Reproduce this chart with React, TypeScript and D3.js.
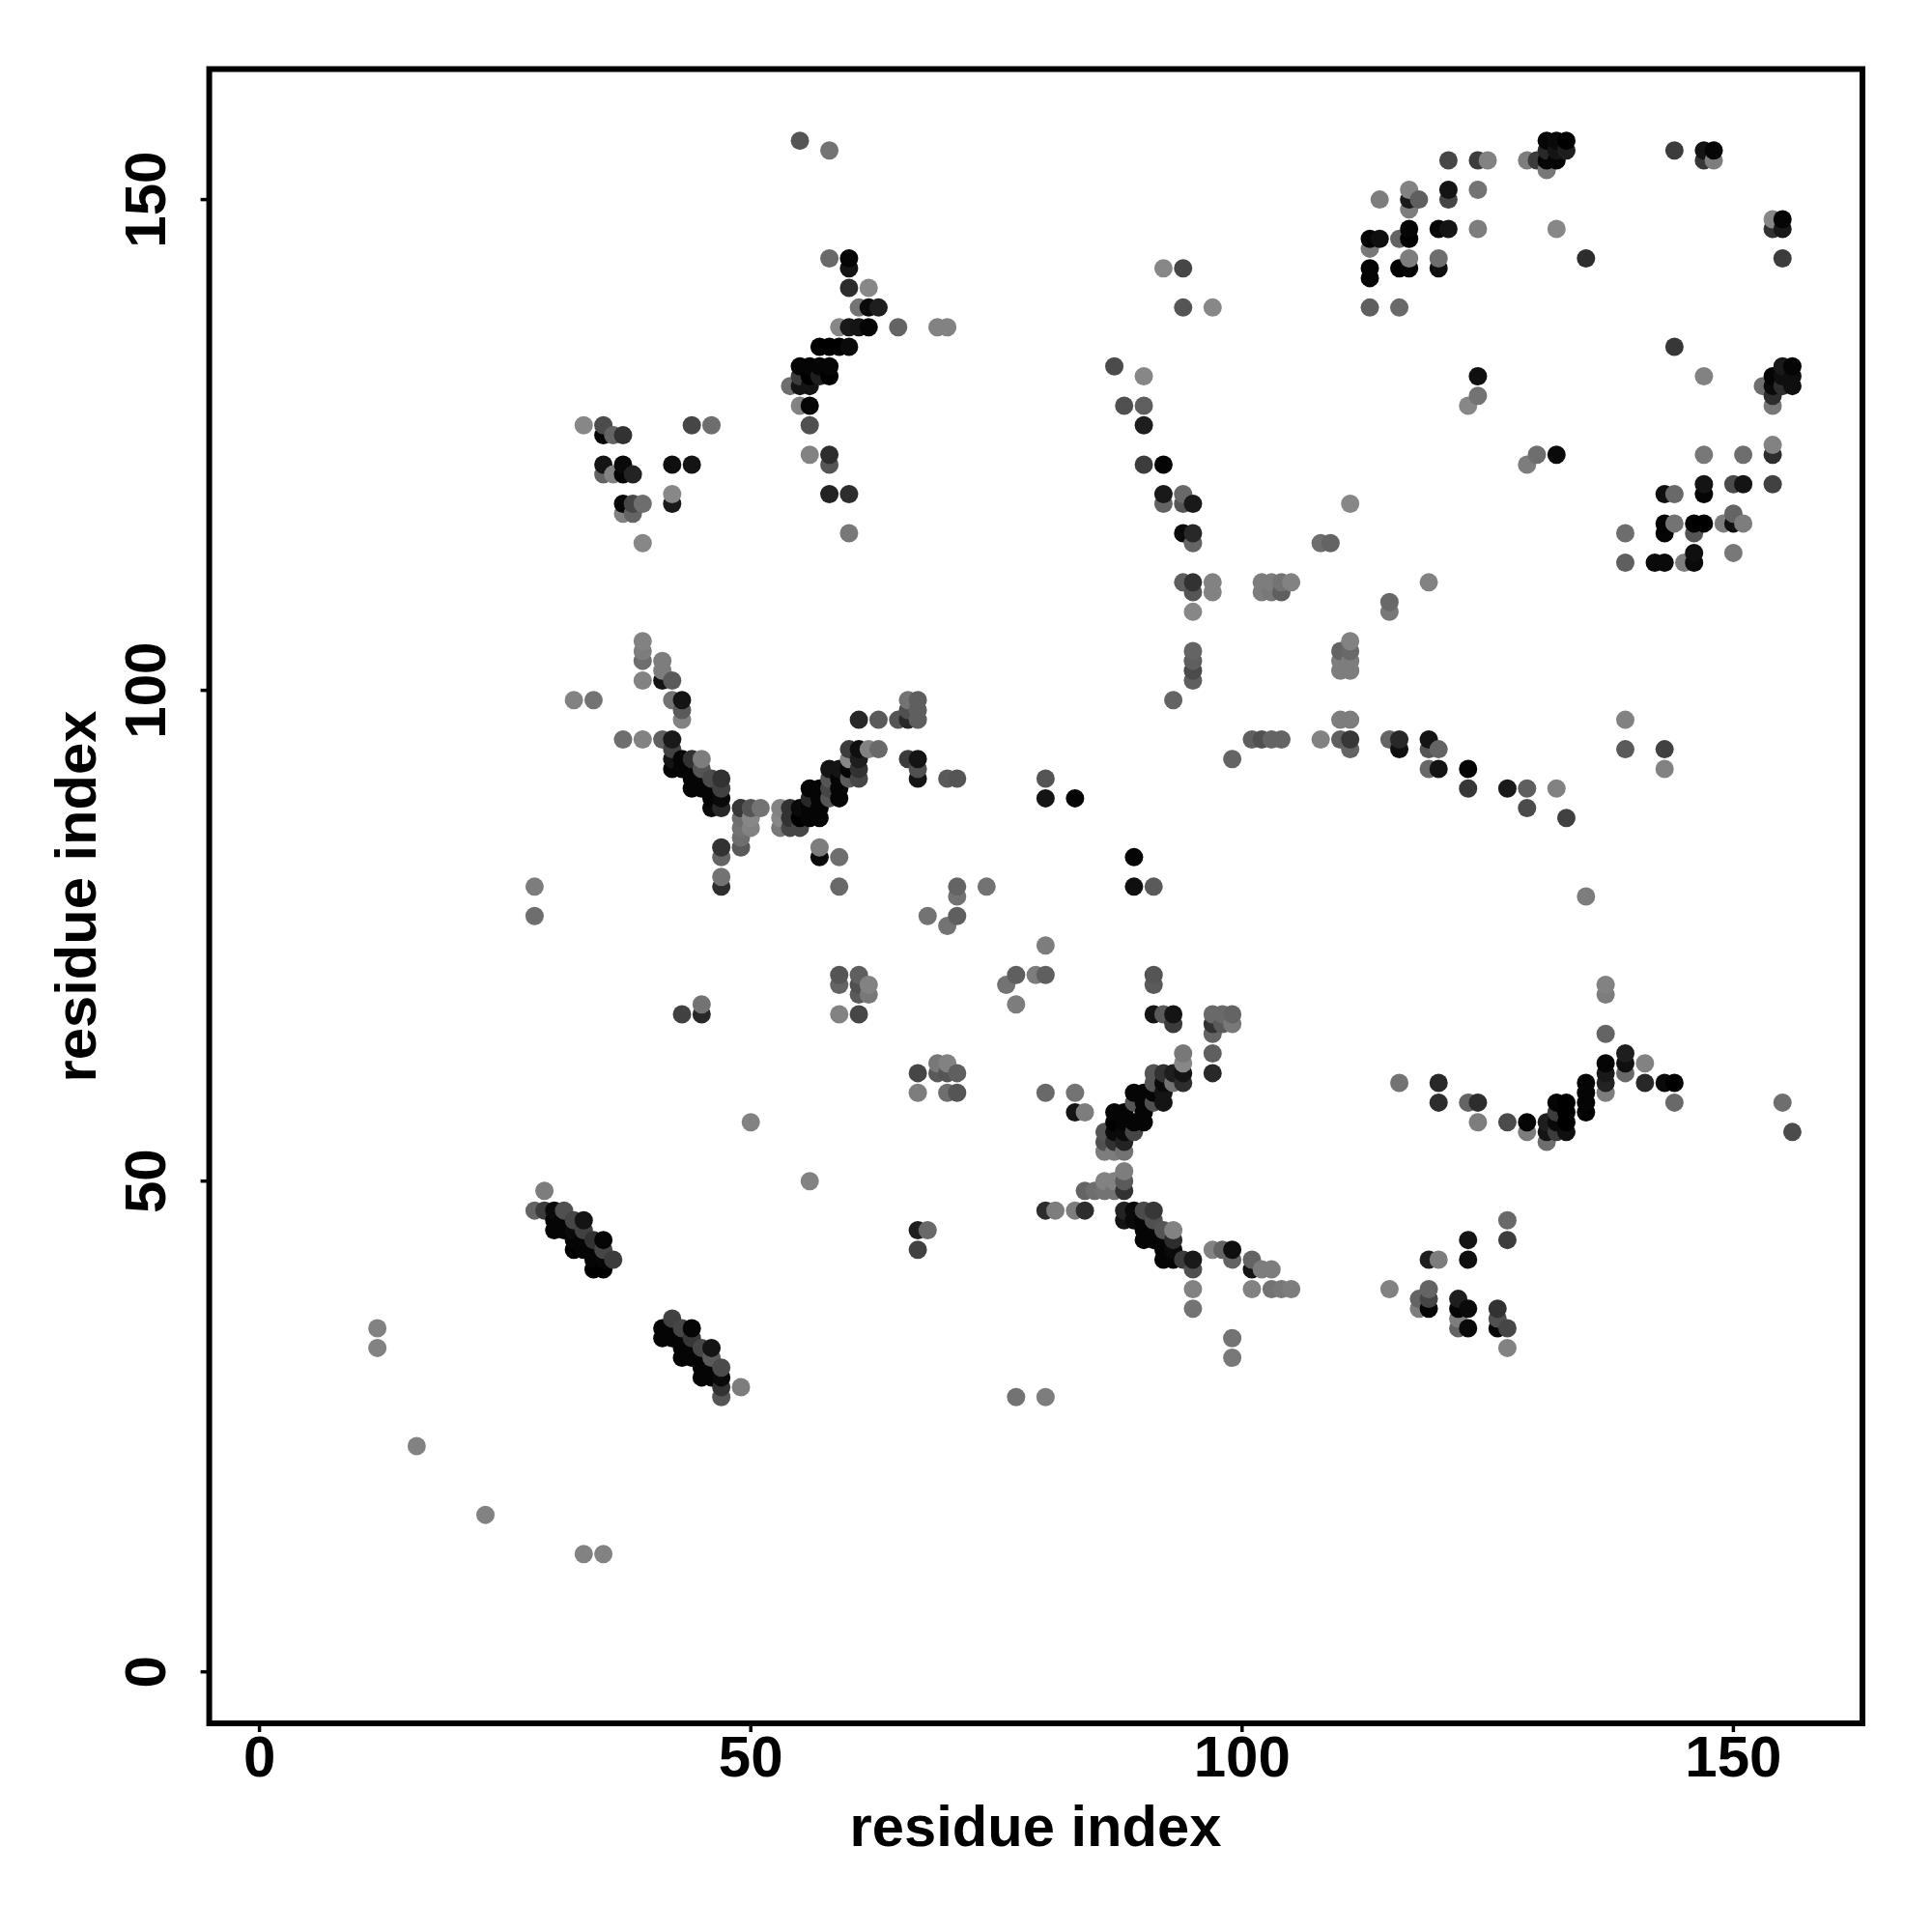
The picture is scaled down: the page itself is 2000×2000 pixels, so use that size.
import React from "react";
import * as d3 from "d3";

type C = [number, number, number];

// Contacts: [residue x, residue y, weakness] — 0 is strongest (black), 140 weakest (grey)
const topMiddle: C[] = [
  [55,156,85],[58,155,115],[58,144,105],[60,144,5],[60,143,20],[60,141,45],[62,141,135],
  [61,139,115],[62,139,10],[63,139,30],[59,137,135],[60,137,25],[61,137,20],[62,137,5],[65,137,100],[69,137,130],[70,137,130],
  [57,135,0],[58,135,0],[59,135,0],[60,135,10],[55,133,5],[56,133,5],[57,133,5],[58,133,5],
  [55,132,60],[56,132,0],[57,132,30],[58,132,0],[54,131,110],[55,131,20],[56,131,20],
  [55,129,130],[56,129,5],[56,127,80],[56,124,130],[58,124,45],[58,123,85],[58,120,35],[60,120,45],[60,116,120],
];
const topLeft: C[] = [
  [33,127,135],[35,127,75],[44,127,70],[46,127,110],[35,126,5],[36,126,100],[37,126,50],
  [35,123,20],[37,123,10],[42,123,15],[44,123,20],[35,122,100],[36,122,130],[37,122,5],[38,122,35],
  [42,120,135],[37,119,5],[38,119,70],[39,119,110],[42,119,25],[37,118,130],[38,118,100],[39,115,135],
];
const topCentre: C[] = [
  [92,143,135],[94,143,70],[94,139,85],[97,139,135],[87,133,75],[90,132,135],[88,129,80],[90,129,95],
  [90,127,30],[90,123,60],[92,123,5],[92,120,25],[94,120,105],[92,119,100],[94,119,85],[95,119,25],
  [94,116,10],[95,116,40],[95,115,100],[94,111,95],[95,111,50],[97,111,130],[95,110,85],[97,110,130],[95,108,135],
  [95,104,100],[95,103,95],[95,102,75],[95,101,95],[93,99,100],
  [102,111,125],[103,111,125],[104,111,115],[105,111,130],[102,110,125],[103,110,120],[104,110,95],
  [108,115,110],[109,115,100],[111,119,135],[115,109,105],[115,108,120],[119,111,130],
  [111,105,130],[110,104,100],[111,104,105],[110,103,125],[111,103,125],[110,102,125],[111,102,125],
  [110,97,125],[111,97,125],
];
const topRight: C[] = [
  [121,154,70],[124,154,60],[125,154,130],[121,151,20],[124,151,115],[121,150,70],[114,150,125],
  [117,151,130],[117,150,25],[118,150,95],[117,149,125],[117,147,5],[120,147,5],[121,147,20],[124,147,125],
  [113,146,5],[114,146,15],[116,146,100],[117,146,0],[113,145,120],[117,144,125],[120,144,110],
  [113,143,5],[116,143,0],[117,143,5],[120,143,15],[113,142,5],[113,139,95],[116,139,105],
  [124,132,15],[124,130,115],[123,129,135],
  [131,156,5],[132,156,10],[133,156,0],[131,155,40],[132,155,20],[133,155,30],
  [129,154,125],[130,154,60],[131,154,5],[132,154,5],[131,153,120],
  [144,155,60],[147,155,20],[148,155,5],[147,154,55],[148,154,125],
  [154,148,135],[155,148,5],[154,147,50],[155,147,25],[132,147,135],[135,144,45],[155,144,60],
  [144,135,55],[147,132,130],[155,133,25],[156,133,5],[154,132,5],[155,132,15],[156,132,15],
  [153,131,110],[154,131,10],[155,131,45],[156,131,15],[154,130,45],[154,129,120],[154,125,130],
];
const midRight: C[] = [
  [130,124,110],[129,123,125],[132,124,10],[147,124,120],[151,124,110],[154,124,45],
  [147,121,20],[150,121,75],[151,121,20],[154,121,65],[143,120,15],[144,120,105],[147,120,5],
  [143,117,0],[144,117,115],[146,117,0],[147,117,0],[149,117,125],[150,117,15],[151,117,125],[150,118,100],
  [139,116,110],[143,116,5],[146,116,85],[146,114,15],[150,114,120],
  [139,113,95],[142,113,10],[143,113,10],[145,113,125],[146,113,10],
  [139,97,130],[139,94,90],[143,94,65],[143,92,130],
];
const midBandLeft: C[] = [
  [39,105,130],[39,104,125],[39,103,110],[41,103,125],[41,102,125],[39,101,130],[41,101,20],[42,101,90],
  [32,99,130],[34,99,115],[42,99,115],[43,99,20],[43,98,90],[43,97,130],
  [37,95,110],[39,95,130],[41,95,95],[42,95,25],[42,94,65],[42,93,20],[43,93,5],[44,93,50],[45,93,125],
  [42,92,5],[43,92,5],[44,92,5],[45,92,85],[44,91,5],[45,91,5],[46,91,75],[47,91,50],
  [44,90,5],[45,90,5],[46,90,5],[47,90,65],[46,89,5],[47,89,10],[46,88,10],[47,88,40],
  [47,84,50],[47,83,100],[47,81,115],[47,80,45],[28,80,125],[28,77,110],
  [49,88,55],[50,88,85],[51,88,115],[49,87,110],[50,87,135],[49,86,115],[50,86,130],[49,85,110],[49,84,90],
];
const midBandRight: C[] = [
  [53,88,130],[54,88,50],[55,88,10],[56,88,5],[57,88,5],[53,87,135],[54,87,50],[55,87,0],[56,87,5],[57,87,5],
  [53,86,120],[54,86,70],[55,86,70],[56,90,5],[57,90,5],[58,90,70],[59,90,5],[56,89,40],[57,89,5],[58,89,85],[59,89,5],
  [58,92,20],[59,92,20],[60,92,5],[61,92,50],[58,91,85],[59,91,5],[60,91,90],[61,91,70],
  [60,94,60],[61,94,15],[62,94,130],[63,94,105],[60,93,135],[61,93,30],
  [61,97,40],[63,97,90],[65,97,85],[66,97,40],[67,97,95],[66,99,115],[67,99,95],[66,98,80],[67,98,95],
  [66,93,60],[67,93,20],[67,92,80],[67,91,20],[70,91,90],[71,91,85],
  [57,84,125],[57,83,10],[59,83,110],[59,80,105],
];
const midScatter: C[] = [
  [71,80,100],[71,79,115],[74,80,115],[68,77,115],[71,77,95],[70,76,115],
  [80,91,85],[80,89,20],[83,89,5],[89,83,5],[89,80,15],[91,80,90],[80,74,125],
  [77,71,95],[79,71,125],[80,71,95],[76,70,115],[77,68,125],
  [59,71,85],[61,71,95],[59,70,100],[61,70,80],[62,70,130],[61,69,90],[62,69,120],[59,67,130],[61,67,70],
  [45,68,115],[43,67,65],[45,67,40],
  [69,62,120],[70,62,130],[67,61,70],[69,61,90],[70,61,85],[71,61,95],[67,59,125],[70,59,110],[71,59,85],
  [50,56,130],[56,50,130],[67,45,30],[68,45,105],[67,43,65],
];
const midLineRight: C[] = [
  [101,95,95],[102,95,80],[103,95,100],[104,95,100],[108,95,130],[110,95,95],[111,95,55],[111,94,100],[99,93,100],
  [115,95,100],[116,95,40],[116,94,15],[119,95,20],[119,94,85],[120,94,100],[119,92,105],[120,92,20],
  [123,92,5],[123,90,55],[127,90,25],[129,90,95],[132,90,130],[129,88,75],[133,87,65],[135,79,125],
];
const lowerFork: C[] = [
  [91,71,85],[91,70,90],[91,67,20],[92,67,90],[93,67,20],[93,66,60],[97,67,105],[98,67,105],[99,67,100],
  [97,66,50],[98,66,90],[99,66,120],[97,65,100],[94,63,120],[97,63,95],[94,62,135],
  [91,61,85],[92,61,50],[93,61,30],[94,61,20],[97,61,40],[91,60,85],[92,60,10],[93,60,115],[94,60,45],
  [80,59,105],[83,59,115],[89,59,5],[90,59,5],[91,59,5],[92,59,20],[89,58,85],[90,58,5],[91,58,80],[92,58,20],
  [83,57,20],[84,57,125],[87,57,5],[88,57,5],[90,57,5],[87,56,0],[88,56,5],[89,56,5],[90,56,5],
  [86,55,85],[87,55,10],[88,55,10],[89,55,70],[86,54,80],[87,54,50],[88,54,35],[86,53,125],[87,53,125],[88,53,115],
  [88,51,125],[86,50,130],[87,50,130],[88,50,90],[84,49,100],[85,49,110],[86,49,115],[87,49,115],[88,49,50],
  [80,47,45],[81,47,125],[83,47,125],[84,47,45],[88,47,35],[89,47,10],[90,47,75],[91,47,55],
  [88,46,20],[89,46,10],[90,46,5],[91,46,80],[90,45,5],[91,45,5],[92,45,85],[93,45,130],
  [90,44,5],[91,44,5],[92,44,5],[93,44,45],[92,43,5],[93,43,10],[97,43,130],[98,43,100],[99,43,15],
  [92,42,5],[93,42,5],[94,42,60],[95,42,25],[99,42,100],[101,42,100],[95,41,80],[101,41,20],[102,41,125],[103,41,125],
  [95,39,130],[101,39,130],[103,39,115],[104,39,120],[105,39,125],[95,37,115],[99,34,115],[99,32,120],
];
const lowerRightLine: C[] = [
  [137,70,130],[137,69,125],[137,65,100],[139,63,30],[137,62,5],[139,62,15],[141,62,130],[137,61,25],[139,61,105],
  [116,60,115],[120,60,40],[135,60,5],[137,60,35],[141,60,40],[143,60,10],[144,60,0],[135,59,5],[137,59,125],
  [120,58,45],[123,58,100],[124,58,45],[132,58,5],[133,58,0],[135,58,5],[144,58,105],[155,58,110],
  [132,57,60],[133,57,0],[135,57,0],[124,56,125],[127,56,75],[129,56,5],[131,56,30],[132,56,10],[133,56,0],
  [129,55,125],[131,55,20],[132,55,60],[133,55,15],[156,55,75],[131,54,110],
];
const lowerRightCluster: C[] = [
  [127,46,105],[123,44,20],[127,44,60],[119,42,30],[120,42,125],[123,42,15],
  [115,39,130],[119,39,100],[118,38,100],[119,38,70],[122,38,30],[118,37,125],[119,37,5],[122,37,5],[123,37,10],[126,37,50],
  [122,36,125],[126,36,80],[122,35,100],[123,35,10],[126,35,5],[127,35,70],[127,33,130],
];
const helixOne: C[] = [
  [29,49,125],[28,47,100],[29,47,60],[30,47,10],[31,47,80],[30,46,5],[31,46,5],[32,46,70],[33,46,20],
  [30,45,5],[31,45,5],[32,45,10],[33,45,65],[32,44,5],[33,44,5],[34,44,50],[35,44,5],
  [32,43,0],[33,43,5],[34,43,5],[35,43,70],[34,42,5],[35,42,5],[36,42,60],[34,41,0],[35,41,0],
];
const helixTwo: C[] = [
  [42,36,65],[41,35,5],[42,35,5],[43,35,70],[44,35,5],[41,34,5],[42,34,5],[43,34,5],[44,34,55],
  [43,33,5],[44,33,5],[45,33,70],[46,33,20],[43,32,5],[44,32,5],[45,32,5],[46,32,90],
  [45,31,5],[46,31,5],[47,31,75],[45,30,5],[46,30,5],[47,30,10],[47,29,50],[49,29,125],[47,28,85],
];
const sparseLow: C[] = [
  [12,35,130],[12,33,130],[16,23,130],[23,16,130],[33,12,130],[35,12,130],[77,28,115],[80,28,125],
];

const xTicks = [0, 50, 100, 150];
const yTicks = [0, 50, 100, 150];
const xLabel = "residue index";
const yLabel = "residue index";

const allContacts: C[] = [
  ...topMiddle, ...topLeft, ...topCentre, ...topRight, ...midRight, ...midBandLeft, ...midBandRight,
  ...midScatter, ...midLineRight, ...lowerFork, ...lowerRightLine, ...lowerRightCluster, ...helixOne, ...helixTwo, ...sparseLow,
];

const x = d3.scaleLinear().domain([0, 150]).range([268.6, 1794.4]);
const y = d3.scaleLinear().domain([0, 150]).range([1730.7, 206.6]);
const shade = d3.scaleLinear<string>().domain([0, 140]).range(["#000000", "#8c8c8c"]);

const frame = { left: 216.6, right: 1928, top: 71.5, bottom: 1784 };
const font = '"Liberation Sans", Arial, sans-serif';

export default function App() {
  const unique = new Map<string, C>();
  allContacts.forEach((c) => unique.set(`${c[0]},${c[1]}`, c));
  const points = Array.from(unique.values()).sort(
    (a, b) => d3.ascending(a[0], b[0]) || d3.ascending(a[1], b[1])
  );
  return (
    <svg
      width={2000}
      height={2000}
      viewBox="0 0 2000 2000"
      style={{ position: "absolute", left: 0, top: 0, background: "#fff" }}
      fontFamily={font}
      fontWeight="bold"
    >
      {points.map((c) => (
        <circle key={`${c[0]}-${c[1]}`} cx={x(c[0])} cy={y(c[1])} r={9.5} fill={shade(c[2])} />
      ))}
      <rect
        x={frame.left}
        y={frame.top}
        width={frame.right - frame.left}
        height={frame.bottom - frame.top}
        fill="none"
        stroke="#000"
        strokeWidth={6}
      />
      {xTicks.map((t) => (
        <g key={t}>
          <line x1={x(t)} x2={x(t)} y1={frame.bottom} y2={frame.bottom + 9} stroke="#000" strokeWidth={3.5} />
          <text x={x(t)} y={1839} fontSize={60} textAnchor="middle">{t}</text>
        </g>
      ))}
      {yTicks.map((t) => (
        <g key={t}>
          <line y1={y(t)} y2={y(t)} x1={frame.left} x2={frame.left - 9} stroke="#000" strokeWidth={3.5} />
          <text transform={`translate(171,${y(t)}) rotate(-90)`} fontSize={60} textAnchor="middle">{t}</text>
        </g>
      ))}
      <text x={1072} y={1911} fontSize={59.7} textAnchor="middle">{xLabel}</text>
      <text transform="translate(99,928) rotate(-90)" fontSize={59.7} textAnchor="middle">{yLabel}</text>
    </svg>
  );
}
